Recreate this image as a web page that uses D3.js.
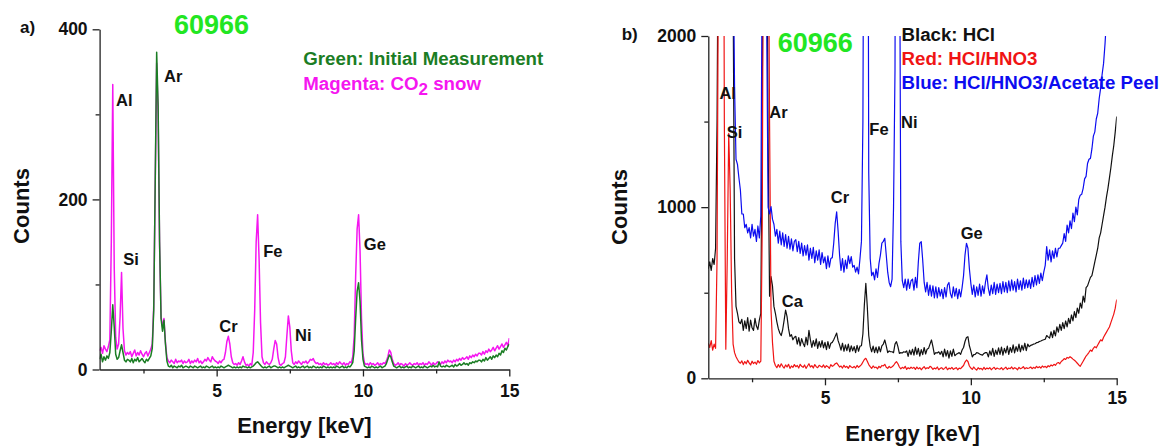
<!DOCTYPE html>
<html>
<head>
<meta charset="utf-8">
<script src="https://cdn.jsdelivr.net/npm/d3@7"></script>
<style>
  html, body { margin: 0; padding: 0; background: #fff; }
  svg { display: block; }
  text { font-family: "Liberation Sans", Arial, sans-serif; font-weight: bold; }
</style>
</head>
<body>
<svg id="chart" width="1159" height="446"></svg>
<script>
// ---------- DATA ----------
// spectra sampled every 0.05 keV from 1.00 keV to 15.00 keV (281 channels)
const energyStart = 1.0;
const energyStep = 0.05;

// Panel a) – Green: Initial Measurement
const greenInitial = [
  12,18,9,15,11,16,13,20,45,76,50,18,12,14,22,29,20,11,9,12,          // 1.00
  11,9,13,8,12,10,14,9,11,13,10,8,12,10,13,16,25,70,220,373,          // 2.00
  310,150,60,45,58,30,10,4,3,5,2,4,3,2,4,3,5,2,3,4,                   // 3.00
  3,2,4,3,2,4,3,2,3,4,2,3,2,4,3,2,3,4,2,3,                            // 4.00
  2,3,2,4,3,2,3,4,5,4,3,2,3,2,3,2,3,2,4,3,                            // 5.00
  3,2,3,2,3,4,6,8,9,7,5,3,2,3,2,3,4,2,3,4,                            // 6.00
  4,3,2,3,2,3,2,3,4,5,4,3,2,3,4,2,3,2,3,4,                            // 7.00
  2,3,4,2,3,2,4,3,2,3,2,3,2,4,3,2,3,2,3,2,                            // 8.00
  3,2,4,3,2,3,4,2,3,2,4,3,5,8,22,60,92,102,80,35,                     // 9.00
  12,4,3,2,3,2,4,3,2,3,2,3,4,2,3,4,7,12,17,15,                        // 10.00
  9,4,3,2,3,4,2,3,2,3,4,2,3,2,4,3,2,3,4,2,                            // 11.00
  3,2,4,3,2,3,4,3,5,3,4,3,9,4,3,4,3,5,4,3,                            // 12.00
  4,5,3,6,4,5,7,5,6,8,6,7,5,8,7,9,8,10,9,11,                          // 13.00
  11,9,12,10,14,11,13,15,12,16,14,17,15,19,17,22,20,25,23,27,         // 14.00
  30                                                                  // 15.00
];
// Panel a) – Magenta: CO2 snow
const magentaCO2 = [
  22,26,19,28,24,21,27,35,150,335,120,38,24,30,62,114,48,22,17,20,
  18,21,15,19,23,16,20,17,22,18,15,19,21,16,20,24,30,75,215,360,
  300,145,62,50,60,32,14,10,8,11,9,7,12,8,10,9,11,7,10,8,
  9,12,7,10,8,11,9,13,8,10,7,9,12,10,14,11,9,15,12,10,
  9,7,10,8,11,12,20,33,39,30,15,8,6,7,5,8,6,10,15,9,
  5,6,4,7,5,20,70,150,182,130,55,15,8,6,9,7,6,8,12,24,
  34,30,14,6,5,7,8,15,40,63,50,22,8,6,9,7,10,8,6,9,
  8,10,7,9,12,11,13,9,7,8,6,7,5,8,6,7,5,6,8,6,
  7,5,8,6,9,7,6,8,5,7,6,9,8,15,40,110,165,182,140,60,
  18,8,6,7,5,8,6,7,5,6,8,5,7,6,8,7,10,15,23,20,
  12,7,5,6,8,5,7,6,4,7,5,6,8,6,5,7,6,8,5,7,
  6,8,5,7,6,9,7,5,8,6,7,9,8,6,9,7,10,8,11,9,
  10,8,11,9,12,10,13,11,14,12,13,15,12,16,14,17,15,18,16,19,
  19,17,21,18,22,20,24,21,23,26,22,25,28,24,27,30,26,29,32,28,
  37
];

// Panel b) – Black: HCl
const blackHCl = [
  640,680,630,700,665,760,1500,3000,5000,6000,5200,3500,2600,2800,3600,3900,3100,2300,700,420,
  380,330,320,345,280,335,290,355,275,340,295,280,350,305,285,340,380,1600,3500,4500,
  3200,1400,480,594,540,420,380,330,290,265,250,285,340,399,360,290,245,255,225,240,
  245,200,238,190,232,205,185,240,195,280,225,180,220,188,230,175,215,182,220,178,
  210,168,215,175,205,210,225,245,264,220,195,165,205,158,195,162,200,155,190,160,
  185,150,192,158,188,190,260,430,555,420,250,185,155,188,150,182,148,185,155,190,
  200,224,190,150,160,155,155,150,200,214,185,145,150,148,155,152,160,128,165,138,
  170,135,182,140,175,130,168,138,180,142,170,175,200,224,185,140,150,148,155,140,
  158,125,170,130,162,118,160,128,170,132,140,145,150,140,165,180,215,238,243,190,
  160,125,138,140,150,148,142,138,135,145,150,150,125,160,135,175,128,165,138,178,
  140,182,135,175,148,188,140,180,152,195,148,185,158,200,155,192,165,205,162,200,
  185,192,195,200,202,208,210,215,218,222,225,228,250,242,235,272,238,280,248,300,
  270,315,280,325,290,335,300,350,320,370,335,390,355,410,380,440,410,480,445,530,
  540,565,590,600,640,680,720,760,820,850,900,950,1000,1060,1110,1170,1230,1300,1360,1440,
  1530
];
// Panel b) – Red: HCl/HNO3
const redHClHNO3 = [
  205,180,220,165,200,175,700,2600,6000,8000,4500,1500,170,700,1431,1100,500,200,150,126,
  110,95,88,102,80,98,85,105,90,78,100,86,95,82,104,90,100,900,3500,6000,
  5500,3000,1500,400,210,100,75,62,80,65,85,70,60,78,66,82,58,72,64,80,
  68,75,60,82,70,64,78,58,72,85,66,74,60,80,68,62,76,70,65,78,
  62,74,68,58,80,70,75,85,90,78,66,72,60,76,64,70,58,74,66,62,
  70,60,75,64,72,80,95,110,117,100,80,68,58,72,62,66,55,70,62,75,
  72,82,65,58,70,62,68,75,88,97,85,66,55,64,58,70,52,62,56,65,
  58,64,52,66,55,62,50,60,68,55,62,58,70,64,52,60,55,66,50,58,
  62,52,58,66,50,60,55,64,52,58,62,50,60,56,66,75,95,107,98,72,
  60,52,66,55,48,62,54,58,50,64,52,60,55,62,50,58,64,52,60,56,
  54,62,50,58,65,52,60,56,66,54,62,58,50,64,56,60,68,55,62,58,
  60,66,56,64,58,70,62,68,60,72,65,70,62,74,68,78,72,82,76,88,
  92,85,98,105,115,110,122,118,126,120,112,105,98,88,78,70,85,100,115,130,
  140,152,165,158,175,185,178,195,210,225,218,240,255,270,285,300,325,350,375,410,
  460
];
// Panel b) – Blue: HCl/HNO3/Acetate Peel
const blueAcetate = [
  3000,3200,3400,3800,4500,5000,6000,7000,8000,8500,8000,7000,6000,5000,4800,4500,3800,2600,1700,1280,
  1250,1170,1100,960,960,880,900,850,880,820,900,830,870,800,890,820,950,2500,5000,6000,
  2100,1000,960,1003,930,900,830,870,790,860,780,850,770,840,760,830,755,815,745,800,
  810,740,800,730,790,715,775,720,780,690,760,700,765,675,745,690,750,665,735,675,
  710,640,715,650,700,705,790,905,973,860,720,630,700,620,690,640,715,670,711,650,
  660,620,650,610,700,800,1500,4000,9000,5000,1200,700,600,620,575,640,590,670,720,790,
  800,818,720,620,560,535,580,1000,1800,5000,7000,3000,800,570,530,580,515,580,525,570,
  580,515,590,530,680,790,798,690,560,505,560,485,545,480,540,470,535,470,530,480,
  520,465,530,475,545,560,495,470,535,480,525,465,520,475,530,600,720,789,760,640,
  555,490,545,475,535,485,550,480,540,495,560,604,525,485,545,495,560,490,550,500,
  555,495,565,505,560,500,570,510,575,515,565,505,580,520,570,515,585,525,575,530,
  575,525,590,535,600,545,605,555,615,570,620,660,770,690,750,680,745,700,760,710,
  760,760,775,790,845,800,895,850,920,875,965,915,1000,955,1045,1070,1075,1110,1165,1180,
  1255,1280,1285,1340,1415,1440,1515,1550,1635,1695,1775,1840,1955,2100,2300,2500,2700,2900,3100,3300,
  3500
];

// axes
const energyDomain = [1, 15];
const energyTicks = [5, 10, 15];
const energyMinorTicks = [2.5, 7.5, 12.5];
const countsDomainA = [0, 400];
const countsTicksA = [0, 200, 400];
const countsMinorA = [100, 300];
const countsDomainB = [0, 2000];
const countsTicksB = [0, 1000, 2000];
const countsMinorB = [500, 1500];

// texts
const sampleId = "60966";
const legendA = ["Green: Initial Measurement", "Magenta: CO", "2", " snow"];
const legendB = ["Black: HCl", "Red: HCl/HNO3", "Blue: HCl/HNO3/Acetate Peel"];
// peak labels anchored in data space [label, energy keV, counts]
const peaksA = [["Al",1.56,310],["Ar",3.20,338],["Si",1.81,123],["Fe",6.59,132],["Cr",5.09,44],["Ni",7.68,33],["Ge",10.03,140]];
const peaksB = [["Al",1.38,1630],["Si",1.63,1402],["Ar",3.09,1519],["Fe",6.52,1422],["Ni",7.61,1461],["Cr",5.20,1022],["Ca",3.52,415],["Ge",9.65,814]];

// ---------- DRAW ----------
const svg = d3.select("#chart");
const energies = d3.range(greenInitial.length).map(i => energyStart + i * energyStep);

function panel(opts) {
  const x = d3.scaleLinear().domain(energyDomain).range(opts.xr);
  const y = d3.scaleLinear().domain(opts.yDomain).range(opts.yr);
  const g = svg.append("g");
  const clipId = "clip" + opts.id;
  svg.append("clipPath").attr("id", clipId).append("rect")
    .attr("x", opts.xr[0]).attr("y", opts.yr[1])
    .attr("width", opts.xr[1] - opts.xr[0]).attr("height", opts.yr[0] - opts.yr[1]);

  const line = d3.line().x((d, i) => x(energies[i])).y(d => y(d));
  const lines = g.append("g").attr("clip-path", `url(#${clipId})`);
  opts.series.forEach(s => {
    lines.append("path").datum(s.values)
      .attr("fill", "none").attr("stroke", s.color)
      .attr("stroke-width", opts.lw).attr("stroke-linejoin", "round")
      .attr("d", line);
  });

  // axes
  const fs = 17.5;
  g.append("g").attr("transform", `translate(0,${opts.yr[0]})`)
    .call(d3.axisBottom(x).tickValues(energyTicks).tickSize(7).tickSizeOuter(0).tickPadding(opts.xPad).tickFormat(d3.format("d")));
  g.append("g").attr("transform", `translate(0,${opts.yr[0]})`)
    .call(d3.axisBottom(x).tickValues(energyMinorTicks).tickSize(4).tickSizeOuter(0).tickFormat(""))
    .select(".domain").remove();
  g.append("g").attr("transform", `translate(${opts.xr[0]},0)`)
    .call(d3.axisLeft(y).tickValues(opts.yTicks).tickSize(7).tickSizeOuter(0).tickPadding(5).tickFormat(d3.format("d")));
  g.append("g").attr("transform", `translate(${opts.xr[0]},0)`)
    .call(d3.axisLeft(y).tickValues(opts.yMinor).tickSize(4).tickSizeOuter(0).tickFormat(""))
    .select(".domain").remove();
  g.selectAll(".domain, .tick line").attr("stroke", "#222").attr("stroke-width", 1.3);
  g.selectAll(".tick text").attr("font-size", fs).attr("fill", "#111")
    .attr("font-family", '"Liberation Sans", Arial, sans-serif').attr("font-weight", "bold");

  // axis titles
  g.append("text").attr("x", (opts.xr[0] + opts.xr[1]) / 2).attr("y", opts.xTitleY)
    .attr("text-anchor", "middle").attr("font-size", 22).attr("fill", "#111").text("Energy [keV]");
  g.append("text").attr("transform", `translate(${opts.yTitleX},${opts.yTitleMid}) rotate(-90)`)
    .attr("text-anchor", "middle").attr("font-size", 22).attr("fill", "#111").text("Counts");

  // panel letter
  g.append("text").attr("x", opts.letterX).attr("y", opts.letterY)
    .attr("font-size", 17).attr("fill", "#111").text(opts.letter);

  // sample id
  g.append("text").attr("x", opts.idX).attr("y", opts.idY).attr("text-anchor", "middle")
    .attr("font-size", 27).attr("fill", "#22e622").text(sampleId);

  // peak labels
  opts.peaks.forEach(p => {
    g.append("text").attr("x", x(p[1])).attr("y", y(p[2]))
      .attr("font-size", 16.5).attr("fill", "#111").text(p[0]);
  });
  return g;
}

const gA = panel({
  id: "A", xr: [99.6, 509.3], yr: [369.5, 29.3], yDomain: countsDomainA,
  yTicks: countsTicksA, yMinor: countsMinorA, lw: 1.5, xPad: 8,
  series: [
    { values: magentaCO2, color: "#f516f0" },
    { values: greenInitial, color: "#1b7d24" }
  ],
  xTitleY: 433.3, yTitleX: 28.5, yTitleMid: 206,
  letter: "a)", letterX: 20, letterY: 33,
  idX: 211.5, idY: 34.3, peaks: peaksA
});
// legend a
gA.append("text").attr("x", 303.3).attr("y", 65).attr("font-size", 18.7).attr("fill", "#1b7d24").text(legendA[0]);
const lm = gA.append("text").attr("x", 303.3).attr("y", 90).attr("font-size", 18.7).attr("fill", "#f516f0");
lm.append("tspan").text(legendA[1]);
lm.append("tspan").attr("dy", 5).attr("font-size", 17).text(legendA[2]);
lm.append("tspan").attr("dy", -5).text(legendA[3]);

const gB = panel({
  id: "B", xr: [708.3, 1116.7], yr: [378.3, 36], yDomain: countsDomainB,
  yTicks: countsTicksB, yMinor: countsMinorB, lw: 1.2, xPad: 6.5,
  series: [
    { values: blackHCl, color: "#111111" },
    { values: redHClHNO3, color: "#f01414" },
    { values: blueAcetate, color: "#0c0cf0" }
  ],
  xTitleY: 440.5, yTitleX: 627, yTitleMid: 207,
  letter: "b)", letterX: 621.7, letterY: 40,
  idX: 815.3, idY: 51.7, peaks: peaksB
});
const legColorsB = ["#111111", "#f01414", "#0c0cf0"];
const legYB = [40.7, 65, 89];
legendB.forEach((t, i) => {
  gB.append("text").attr("x", 901.5).attr("y", legYB[i]).attr("font-size", 18.7)
    .attr("fill", legColorsB[i]).text(t);
});
</script>
</body>
</html>
